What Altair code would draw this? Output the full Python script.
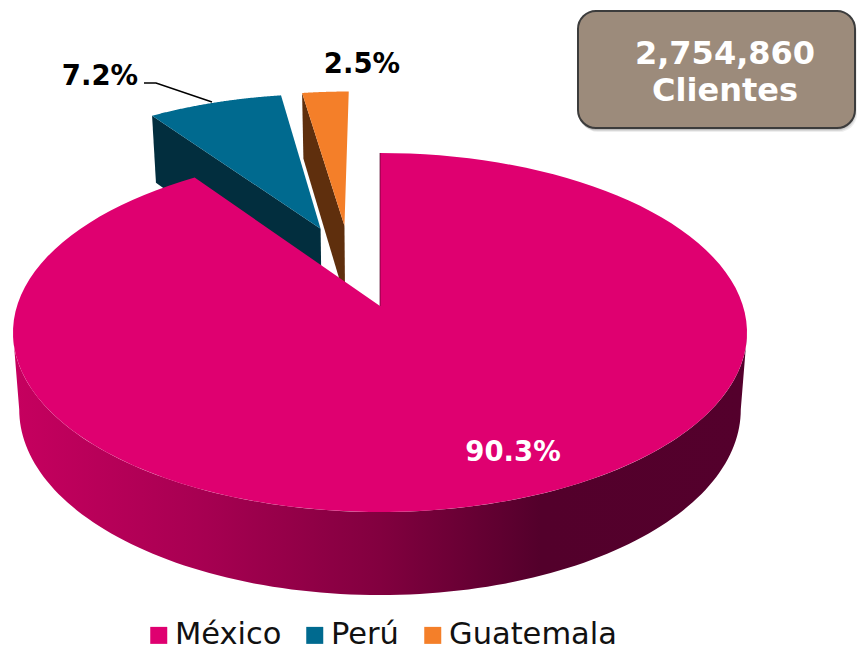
import math
import altair as alt
import pandas as pd

# ---- chart values
countries = ["México", "Perú", "Guatemala"]
shares = [90.3, 7.2, 2.5]
top_colors = ["#df0070", "#006a8f", "#f47f29"]
wall_colors = ["#52002a", "#022e3e", "#5f2f0d"]
box_lines = ["2,754,860", "Clientes"]

# ---- 3D view of the pie (unit disk -> page pixels)
CX, CY, A, B, K = 380.0, 306.0, 363.0, 175.6, 0.1476
EXPLODE = {"México": (0.0, 0.0), "Perú": (-0.175, 0.47), "Guatemala": (-0.105, 0.49)}


def project(u, v, down=False):
    den = 1 + K * v
    x = CX + A * u / den
    y = CY - B * v / den
    if down:
        x = CX + (x - CX) * 0.983
        y = y + 76 - 7 * v
    return x, y


def disk(theta, name, radius=1.0):
    du, dv = EXPLODE[name]
    return radius * math.sin(theta) + du, radius * math.cos(theta) + dv


total = sum(shares)
spans = {}
cum = 0.0
for name, s in zip(countries, shares):
    spans[name] = (cum / total * 2 * math.pi, (cum + s) / total * 2 * math.pi)
    cum += s


def rows(points, name):
    return [{"x": p[0], "y": p[1], "i": i, "name": name} for i, p in enumerate(points)]


def top_face(name):
    a, b = spans[name]
    n = 120
    pts = [project(*disk(a + (b - a) * j / n, name)) for j in range(n + 1)]
    pts.append(project(*disk(0, name, 0.0)))
    return rows(pts, name)


def wall(name, theta):
    rim = disk(theta, name)
    mid = disk(theta, name, 0.0)
    return rows([project(*rim), project(*mid), project(*mid, True), project(*rim, True)], name)


def rim_band(name, a, b):
    n = 120
    ths = [a + (b - a) * j / n for j in range(n + 1)]
    upper = [project(*disk(t, name)) for t in ths]
    lower = [project(*disk(t, name), True) for t in reversed(ths)]
    return rows(upper + lower, name)


scale_x = alt.Scale(domain=[8, 857], range=[0, 849], nice=False, zero=False)
scale_y = alt.Scale(domain=[8, 645], range=[0, 637], nice=False, zero=False)
X = alt.X("x:Q", scale=scale_x, axis=None)
Y = alt.Y("y:Q", scale=scale_y, axis=None)


def poly(data, fill):
    return alt.Chart(pd.DataFrame(data)).mark_line(fill=fill, strokeWidth=0).encode(x=X, y=Y, order="i:Q")


side_gradient = alt.Gradient(
    gradient="linear", x1=0, x2=1, y1=0, y2=0,
    stops=[
        alt.GradientStop(offset=0.0, color="#c6005f"),
        alt.GradientStop(offset=0.25, color="#a80052"),
        alt.GradientStop(offset=0.5, color="#82003f"),
        alt.GradientStop(offset=0.72, color="#53002b"),
        alt.GradientStop(offset=1.0, color="#54002c"),
    ],
)

tip = math.acos(-K)
layers = [
    poly(wall("Guatemala", spans["Guatemala"][0]), wall_colors[2]),
    poly(wall("Perú", spans["Perú"][0]), wall_colors[1]),
    poly(rim_band("México", tip, 2 * math.pi - tip), side_gradient),
    poly(top_face("Perú"), top_colors[1]),
    poly(top_face("Guatemala"), top_colors[2]),
    poly(top_face("México"), top_colors[0]),
]

# notch edge
notch = pd.DataFrame(rows([project(*disk(0, "México")), project(*disk(0, "México", 0.0))], "México"))
layers.append(alt.Chart(notch).mark_line(color="#52002a", strokeWidth=1, opacity=0.7).encode(x=X, y=Y, order="i:Q"))

# leader line of the 7.2% label
leader_x = [144, 156, 212]
leader_y = [83, 83, 102]
leader = pd.DataFrame({"x": leader_x, "y": leader_y, "i": range(3)})
layers.append(alt.Chart(leader).mark_line(color="black", strokeWidth=1.5).encode(x=X, y=Y, order="i:Q"))


# value labels
def label(text, x, y, color):
    frame = pd.DataFrame({"x": [x], "y": [y], "t": [text]})
    return (
        alt.Chart(frame)
        .mark_text(font="DejaVu Sans", fontWeight="bold", fontSize=27.5, baseline="alphabetic", align="center", color=color)
        .encode(x=X, y=Y, text="t:N")
    )


layers += [label("90.3%", 513, 461, "white"), label("7.2%", 100, 85, "black"), label("2.5%", 362, 73, "black")]

# box with total
box_x, box_x2, box_y, box_y2 = 578, 855, 11, 128
for off, op in [(4, 0.10), (3, 0.15), (2, 0.2)]:
    shadow = pd.DataFrame({"x": [box_x + off - 2], "x2": [box_x2 + off - 2], "y": [box_y + off], "y2": [box_y2 + off]})
    layers.append(
        alt.Chart(shadow).mark_rect(cornerRadius=18, color="#555555", opacity=op)
        .encode(x=X, x2="x2:Q", y=Y, y2="y2:Q")
    )
box = pd.DataFrame({"x": [box_x], "x2": [box_x2], "y": [box_y], "y2": [box_y2]})
layers.append(
    alt.Chart(box).mark_rect(cornerRadius=18, fill="#9c8b7b", stroke="#3c3c3c", strokeWidth=2)
    .encode(x=X, x2="x2:Q", y=Y, y2="y2:Q")
)
boxt = pd.DataFrame({"x": [725, 725], "y": [64, 101], "t": box_lines})
layers.append(
    alt.Chart(boxt)
    .mark_text(font="DejaVu Sans", fontWeight="bold", fontSize=32, color="white", baseline="alphabetic", align="center")
    .encode(x=X, y=Y, text="t:N")
)

# legend
leg = pd.DataFrame({"name": countries, "x": [400, 400, 400], "y": [300, 300, 300]})
layers.append(
    alt.Chart(leg)
    .mark_square(size=1, opacity=0)
    .encode(
        x=X,
        y=Y,
        color=alt.Color(
            "name:N",
            scale=alt.Scale(domain=countries, range=top_colors),
            sort=countries,
            legend=alt.Legend(
                title=None, orient="none", legendX=135.5, legendY=612, direction="horizontal",
                symbolType="square", symbolSize=289, symbolOpacity=1, symbolStrokeWidth=0,
                labelFont="DejaVu Sans", labelFontSize=30.5, labelColor="#111111",
                labelOffset=1, columnPadding=18, labelLimit=300,
            ),
        ),
    )
)

chart = (
    alt.layer(*layers)
    .properties(width=849, height=637, padding=0, autosize=alt.AutoSizeParams(type="none"))
    .configure_view(stroke=None)
)
chart.save("out.html", embed_options={"renderer": "svg", "actions": False})
